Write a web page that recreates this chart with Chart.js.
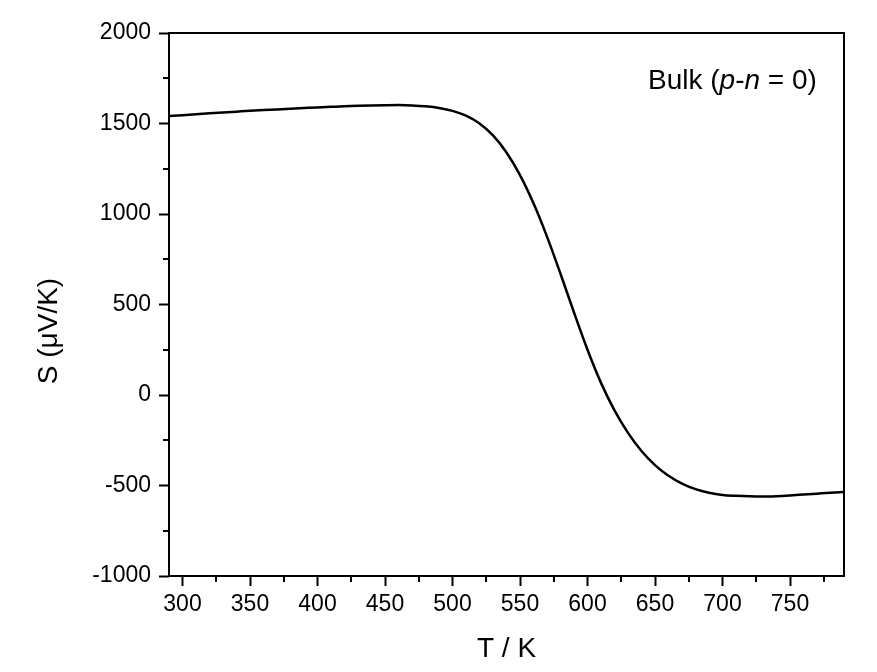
<!DOCTYPE html>
<html>
<head>
<meta charset="utf-8">
<script src="https://cdn.jsdelivr.net/npm/chart.js@4/dist/chart.umd.min.js"></script>
<style>
  html, body { margin: 0; padding: 0; background: #ffffff; }
  #wrap { width: 877px; height: 672px; }
</style>
</head>
<body>
<div id="wrap"><canvas id="chart" width="877" height="672"></canvas></div>
<script>
// Seebeck coefficient of the bulk sample versus temperature
const temperature = [
  290, 300, 310, 320, 330, 340, 350, 360, 370, 380, 390, 400, 410, 420, 430,
  440, 450, 460, 470, 480, 490, 500, 510, 520, 530, 540, 550, 560, 570, 580,
  590, 600, 610, 620, 630, 640, 650, 660, 670, 680, 690, 700, 710, 720, 730,
  740, 750, 760, 770, 780, 790
];
const seebeck = [
  1541, 1546, 1551, 1556, 1561, 1565.5, 1570, 1574, 1578, 1582, 1585.5, 1589, 1592, 1595, 1597.5,
  1599.5, 1601, 1602, 1600, 1595, 1586, 1570, 1543, 1500, 1434, 1340, 1215, 1059, 875, 670,
  456, 250, 67, -85, -209, -309, -387, -446, -489, -520, -540, -552, -557, -560, -561,
  -559, -555, -550, -545, -540, -536
];

const xTickValues = [300, 350, 400, 450, 500, 550, 600, 650, 700, 750];
const xMinorValues = [325, 375, 425, 475, 525, 575, 625, 675, 725, 775];
const yTickValues = [-1000, -500, 0, 500, 1000, 1500, 2000];
const yMinorValues = [-750, -250, 250, 750, 1250, 1750];

const xTitle = 'T / K';
const yTitle = 'S (\u03BCV/K)';
// annotation pieces: [text, italic]
const noteParts = [['Bulk (', false], ['p', true], ['-', false], ['n', true], [' = 0)', false]];

const FAMILY = '"Liberation Sans", Arial, Helvetica, sans-serif';

const framePlugin = {
  id: 'frameAndText',
  afterDraw(chart) {
    const ctx = chart.ctx;
    const { left, right, top, bottom } = chart.chartArea;
    const xs = chart.scales.x, ys = chart.scales.y;
    ctx.save();
    // box frame
    ctx.strokeStyle = '#000';
    ctx.lineWidth = 2;
    ctx.strokeRect(left, top, right - left, bottom - top);
    // minor ticks
    ctx.beginPath();
    xMinorValues.forEach(v => {
      const px = Math.round(xs.getPixelForValue(v));
      ctx.moveTo(px, bottom);
      ctx.lineTo(px, bottom + 6);
    });
    yMinorValues.forEach(v => {
      const py = Math.round(ys.getPixelForValue(v));
      ctx.moveTo(left, py);
      ctx.lineTo(left - 6, py);
    });
    ctx.stroke();

    ctx.fillStyle = '#000';
    // x axis title
    ctx.font = '28px ' + FAMILY;
    ctx.textAlign = 'center';
    ctx.textBaseline = 'alphabetic';
    ctx.fillText(xTitle, (left + right) / 2, 657);
    // y axis title
    ctx.save();
    ctx.translate(57, 331);
    ctx.rotate(-Math.PI / 2);
    ctx.fillText(yTitle, 0, 0);
    ctx.restore();

    // annotation
    ctx.textAlign = 'left';
    let x = 648;
    noteParts.forEach(([txt, italic]) => {
      ctx.font = (italic ? 'italic ' : '') + '28px ' + FAMILY;
      ctx.fillText(txt, x, 89);
      x += ctx.measureText(txt).width;
    });
    ctx.restore();
  }
};

new Chart(document.getElementById('chart'), {
  type: 'line',
  data: {
    datasets: [{
      data: temperature.map((t, i) => ({ x: t, y: seebeck[i] })),
      borderColor: '#000000',
      borderWidth: 2.5,
      pointRadius: 0,
      fill: false,
      cubicInterpolationMode: 'monotone'
    }]
  },
  options: {
    responsive: false,
    devicePixelRatio: 1,
    animation: false,
    layout: { padding: { top: 33, right: 33, left: 0, bottom: 0 } },
    plugins: { legend: { display: false }, tooltip: { enabled: false } },
    scales: {
      x: {
        type: 'linear',
        min: 290,
        max: 790,
        afterBuildTicks: s => { s.ticks = xTickValues.map(v => ({ value: v })); },
        afterFit: s => { s.height = 96; },
        border: { display: false },
        grid: { drawOnChartArea: false, drawTicks: true, tickLength: 10, tickWidth: 2, tickColor: '#000' },
        ticks: {
          autoSkip: false, maxRotation: 0, padding: 5, color: '#000',
          font: { family: FAMILY, size: 23 },
          callback: v => String(v)
        }
      },
      y: {
        type: 'linear',
        min: -1000,
        max: 2000,
        afterBuildTicks: s => { s.ticks = yTickValues.map(v => ({ value: v })); },
        afterFit: s => { s.width = 169; },
        border: { display: false },
        grid: { drawOnChartArea: false, drawTicks: true, tickLength: 10, tickWidth: 2, tickColor: '#000' },
        ticks: {
          autoSkip: false, padding: 8, color: '#000',
          font: { family: FAMILY, size: 23 },
          callback: v => String(v)
        }
      }
    }
  },
  plugins: [framePlugin]
});
</script>
</body>
</html>
